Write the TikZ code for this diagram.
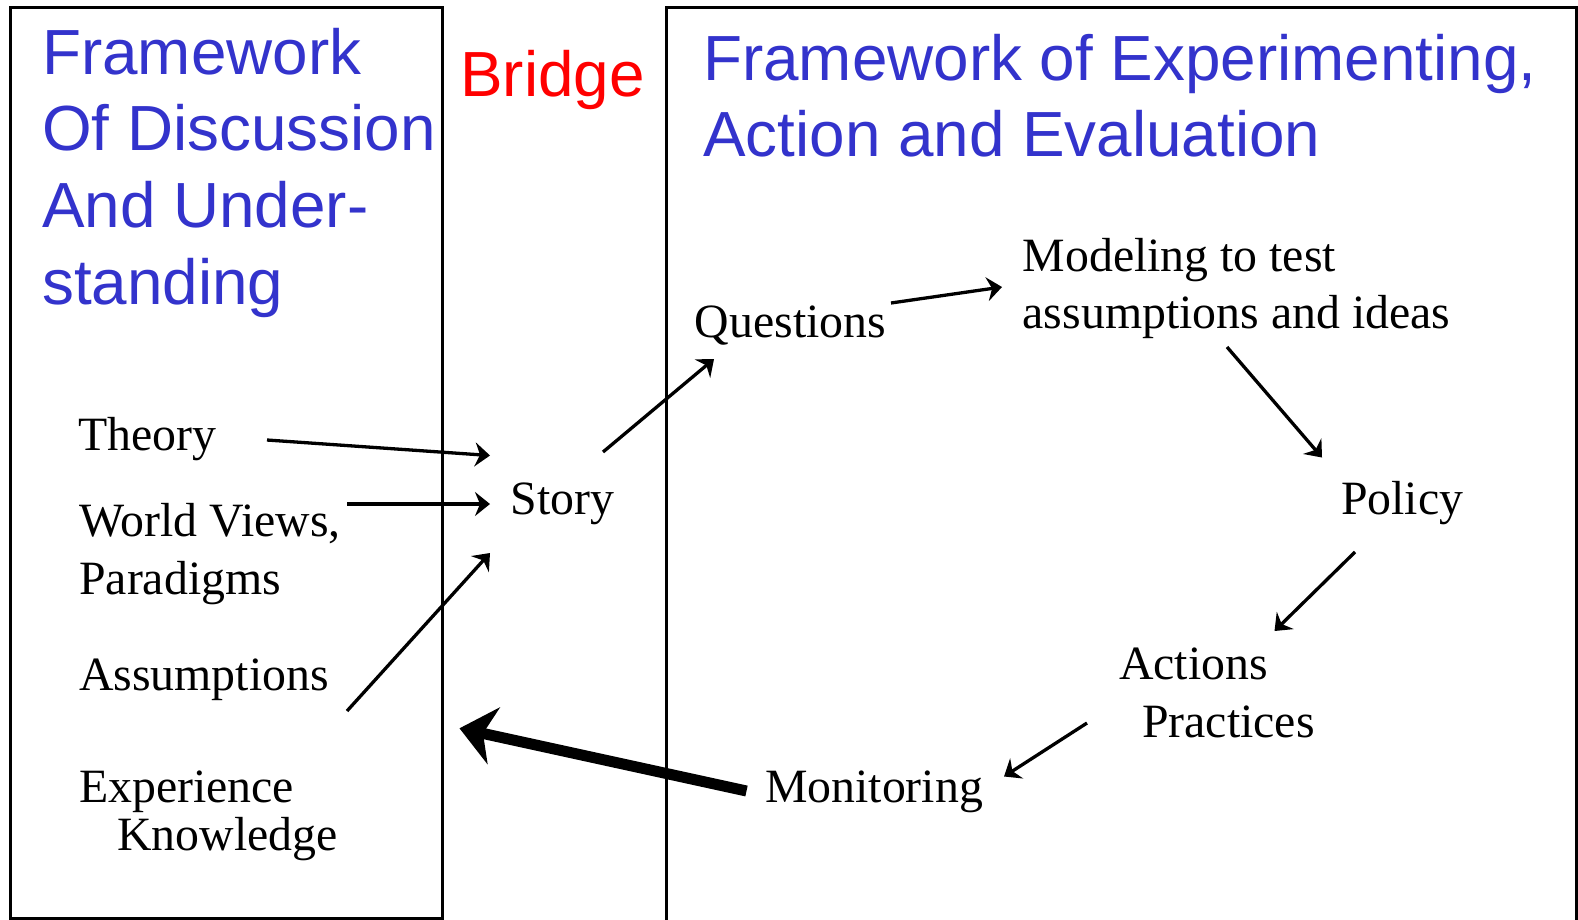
\documentclass[tikz,border=0pt]{standalone}
\usepackage{fontspec}
\setmainfont{Liberation Serif}
\setsansfont{Liberation Sans}
\usetikzlibrary{arrows.meta}
\definecolor{titleblue}{RGB}{51,51,204}
\definecolor{bridgered}{RGB}{255,0,0}
\begin{document}
\begin{tikzpicture}[x=1pt,y=-1pt,
  framebox/.style={draw=black,line width=2.6pt},
  bigtitle/.style={font=\sffamily\fontsize{63.8}{76.7}\selectfont,text=titleblue,anchor=base west,inner sep=0pt,align=left},
  bridgetitle/.style={font=\sffamily\fontsize{63.8}{76.7}\selectfont,text=bridgered,anchor=base west,inner sep=0pt},
  lab/.style={font=\fontsize{47.8}{57.3}\selectfont,anchor=base west,inner sep=0pt,align=left},
  arr/.style={line width=3.3pt,-{Stealth[length=15pt,width=24pt,inset=5pt]}},
  bigarr/.style={line width=11pt,-{Stealth[length=35pt,width=58pt,inset=11pt]}}
]
\useasboundingbox (0,0) rectangle (1578,919);
\fill[white] (0,0) rectangle (1578,919);
% frames
\draw[framebox] (10.7,7.3) rectangle (442.7,918.6);
\draw[framebox] (666.7,7.3) rectangle (1576.5,925);
% titles (multi-line nodes are placed by the baseline of their last line)
\node[bigtitle] (ltitle) at (42,304.3) {Framework\\Of Discussion\\And Under-\\standing};
\node[bridgetitle] (bridge) at (460,96.7) {Bridge};
\node[bigtitle] (rtitle) at (703,156.7) {Framework of Experimenting,\\Action and Evaluation};
% left column
\node[lab] (theory) at (78,450.7) {Theory};
\node[lab] (world) at (79,594.1) {World Views,\\Paradigms};
\node[lab] (assum) at (79,690.3) {Assumptions};
\node[lab] (exper) at (79,850.5) {Experience\\[-9pt]\hspace*{38pt}Knowledge};
% middle / right
\node[lab] (story) at (510.6,514.8) {Story};
\node[lab] (questions) at (694.7,337.3) {Questions};
\node[lab] (modeling) at (1022.5,328.3) {Modeling to test\\assumptions and ideas};
\node[lab] (policy) at (1341,514) {Policy};
\node[lab] (actions) at (1119,737.2) {Actions\\\hspace*{23pt}Practices};
\node[lab] (monitoring) at (765,802) {Monitoring};
% connector end points
\coordinate (theoryS) at (267,440);
\coordinate (storyT1) at (490,455.5);
\coordinate (worldS) at (347,504);
\coordinate (storyT2) at (490,504);
\coordinate (assumS) at (347,711);
\coordinate (storyT3) at (490,553);
\coordinate (storyS) at (603,452);
\coordinate (questT) at (714,359);
\coordinate (questS) at (891,303);
\coordinate (modelT) at (1002,287);
\coordinate (modelS) at (1227,347);
\coordinate (policyT) at (1322,457.5);
\coordinate (policyS) at (1355,552);
\coordinate (actionsT) at (1274.5,631);
\coordinate (actionsS) at (1087,723);
\coordinate (monitT) at (1004,776.5);
\coordinate (monitS) at (746.5,791);
\coordinate (leftT) at (459.5,728.3);
% connectors
\draw[arr] (theoryS) -- (storyT1);
\draw[arr] (worldS) -- (storyT2);
\draw[arr] (assumS) -- (storyT3);
\draw[arr] (storyS) -- (questT);
\draw[arr] (questS) -- (modelT);
\draw[arr] (modelS) -- (policyT);
\draw[arr] (policyS) -- (actionsT);
\draw[arr] (actionsS) -- (monitT);
\draw[bigarr] (monitS) -- (leftT);
\end{tikzpicture}
\end{document}
